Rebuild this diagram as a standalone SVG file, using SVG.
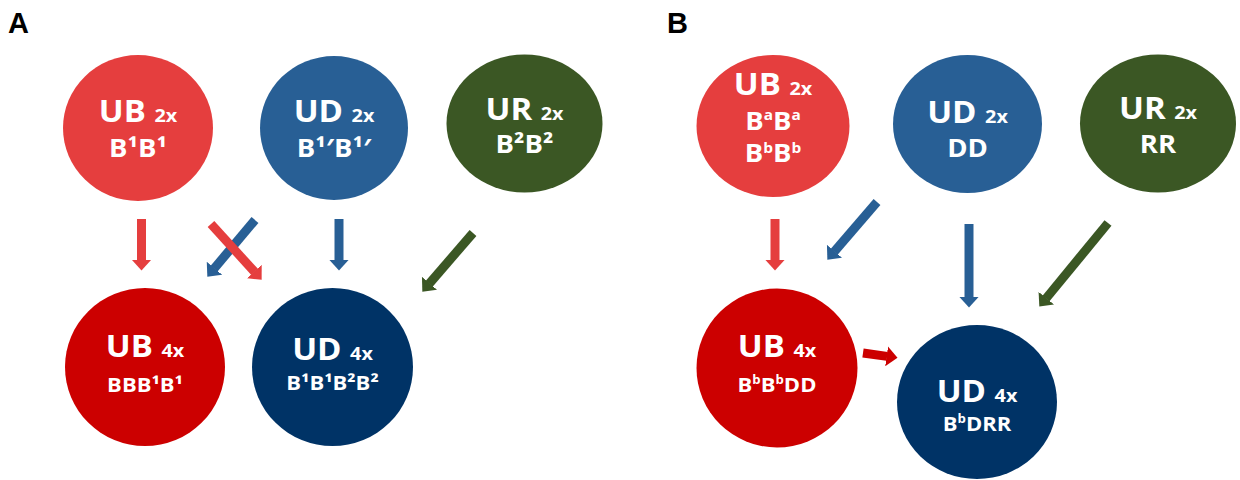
<svg xmlns="http://www.w3.org/2000/svg" width="1240" height="480" viewBox="0 0 1240 480">
  <defs>
    <style>
      .panel { font-family: "Liberation Sans", Arial, sans-serif; font-weight: 700; font-size: 29px; fill: #000; }
      .lbl { font-family: "Open Sans", "Liberation Sans", sans-serif; font-weight: 700; fill: #fff; text-anchor: middle; }
      .big { font-size: 30px; }
      .tag { font-size: 18px; }
      .sub { font-size: 25px; }
      .sub2 { font-size: 20px; }
      .c-red { fill: #E53E3E; }
      .c-blue { fill: #285F95; }
      .c-green { fill: #3B5724; }
      .c-dred { fill: #CC0000; }
      .c-navy { fill: #003366; }
      .arr { stroke-width: 9; stroke-linecap: butt; fill: none; }
    </style>
    <marker id="hd-red" markerUnits="userSpaceOnUse" viewBox="0 0 11 20" markerWidth="11" markerHeight="20" refX="0.5" refY="10" orient="auto">
      <path d="M0,0 L11,10 L0,20 z" fill="#E53E3E"/>
    </marker>
    <marker id="hd-blue" markerUnits="userSpaceOnUse" viewBox="0 0 11 20" markerWidth="11" markerHeight="20" refX="0.5" refY="10" orient="auto">
      <path d="M0,0 L11,10 L0,20 z" fill="#285F95"/>
    </marker>
    <marker id="hd-green" markerUnits="userSpaceOnUse" viewBox="0 0 11 20" markerWidth="11" markerHeight="20" refX="0.5" refY="10" orient="auto">
      <path d="M0,0 L11,10 L0,20 z" fill="#3B5724"/>
    </marker>
    <marker id="hd-dred" markerUnits="userSpaceOnUse" viewBox="0 0 11 20" markerWidth="11" markerHeight="20" refX="0.5" refY="10" orient="auto">
      <path d="M0,0 L11,10 L0,20 z" fill="#CC0000"/>
    </marker>
  </defs>

  <rect width="1240" height="480" fill="#fff"/>

  <!-- panel letters -->
  <text class="panel" x="8" y="33">A</text>
  <text class="panel" x="667" y="33">B</text>

  <!-- connectors -->
  <g id="connectors">
    <!-- panel A -->
    <line class="arr" x1="141.5" y1="219" x2="141.5" y2="260" stroke="#E53E3E" marker-end="url(#hd-red)"/>
    <line class="arr" x1="255" y1="220" x2="214.1" y2="268.6" stroke="#285F95" marker-end="url(#hd-blue)"/>
    <line class="arr" x1="211" y1="224" x2="254.6" y2="271.9" stroke="#E53E3E" marker-end="url(#hd-red)"/>
    <line class="arr" x1="339" y1="219" x2="339" y2="260" stroke="#285F95" marker-end="url(#hd-blue)"/>
    <line class="arr" x1="473" y1="233" x2="429.2" y2="283.7" stroke="#3B5724" marker-end="url(#hd-green)"/>
    <!-- panel B -->
    <line class="arr" x1="775" y1="219" x2="775" y2="260" stroke="#E53E3E" marker-end="url(#hd-red)"/>
    <line class="arr" x1="877" y1="202" x2="834.2" y2="251.7" stroke="#285F95" marker-end="url(#hd-blue)"/>
    <line class="arr" x1="969" y1="224" x2="969" y2="297" stroke="#285F95" marker-end="url(#hd-blue)"/>
    <line class="arr" x1="1108" y1="223" x2="1046" y2="298.5" stroke="#3B5724" marker-end="url(#hd-green)"/>
    <line class="arr" x1="863" y1="353" x2="887.1" y2="356.4" stroke="#CC0000" marker-end="url(#hd-dred)"/>
  </g>

  <!-- panel A nodes -->
  <g id="a-ub2x">
    <ellipse class="c-red" cx="138" cy="128" rx="75" ry="73"/>
    <g transform="translate(138 0) scale(1.1 1)">
      <text class="lbl" x="0" y="122"><tspan class="big">UB </tspan><tspan class="tag">2x</tspan></text>
      <text class="lbl sub" x="0" y="157">B¹B¹</text>
    </g>
  </g>
  <g id="a-ud2x">
    <ellipse class="c-blue" cx="334" cy="128" rx="74" ry="72"/>
    <g transform="translate(334 0) scale(1.1 1)">
      <text class="lbl" x="0" y="122"><tspan class="big">UD </tspan><tspan class="tag">2x</tspan></text>
      <text class="lbl sub" x="0" y="157">B¹′B¹′</text>
    </g>
  </g>
  <g id="a-ur2x">
    <ellipse class="c-green" cx="524.5" cy="123.5" rx="78" ry="69"/>
    <g transform="translate(524.5 0) scale(1.1 1)">
      <text class="lbl" x="0" y="120"><tspan class="big">UR </tspan><tspan class="tag">2x</tspan></text>
      <text class="lbl sub" x="0" y="153">B²B²</text>
    </g>
  </g>
  <g id="a-ub4x">
    <ellipse class="c-dred" cx="145" cy="367" rx="80" ry="79"/>
    <g transform="translate(145 0) scale(1.1 1)">
      <text class="lbl" x="0" y="357"><tspan class="big">UB </tspan><tspan class="tag">4x</tspan></text>
      <text class="lbl sub2" x="0" y="392">BBB¹B¹</text>
    </g>
  </g>
  <g id="a-ud4x">
    <ellipse class="c-navy" cx="332.5" cy="367" rx="80.5" ry="79"/>
    <g transform="translate(332.5 0) scale(1.1 1)">
      <text class="lbl" x="0" y="360"><tspan class="big">UD </tspan><tspan class="tag">4x</tspan></text>
      <text class="lbl sub2" x="0" y="390">B¹B¹B²B²</text>
    </g>
  </g>

  <!-- panel B nodes -->
  <g id="b-ub2x">
    <ellipse class="c-red" cx="773" cy="126" rx="76.5" ry="71"/>
    <g transform="translate(773 0) scale(1.1 1)">
      <text class="lbl" x="0" y="95"><tspan class="big">UB </tspan><tspan class="tag">2x</tspan></text>
      <text class="lbl sub" x="0" y="130">B<tspan font-size="14" dy="-10">a</tspan><tspan dy="10">B</tspan><tspan font-size="14" dy="-10">a</tspan></text>
      <text class="lbl sub" x="0" y="162">B<tspan font-size="14" dy="-9">b</tspan><tspan dy="9">B</tspan><tspan font-size="14" dy="-9">b</tspan></text>
    </g>
  </g>
  <g id="b-ud2x">
    <ellipse class="c-blue" cx="967.5" cy="124" rx="74.5" ry="69"/>
    <g transform="translate(967.5 0) scale(1.1 1)">
      <text class="lbl" x="0" y="123"><tspan class="big">UD </tspan><tspan class="tag">2x</tspan></text>
      <text class="lbl sub" x="0" y="157">DD</text>
    </g>
  </g>
  <g id="b-ur2x">
    <ellipse class="c-green" cx="1158" cy="123.5" rx="78" ry="69"/>
    <g transform="translate(1158 0) scale(1.1 1)">
      <text class="lbl" x="0" y="119"><tspan class="big">UR </tspan><tspan class="tag">2x</tspan></text>
      <text class="lbl sub" x="0" y="153">RR</text>
    </g>
  </g>
  <g id="b-ub4x">
    <ellipse class="c-dred" cx="777" cy="368" rx="80.5" ry="79.5"/>
    <g transform="translate(777 0) scale(1.1 1)">
      <text class="lbl" x="0" y="357"><tspan class="big">UB </tspan><tspan class="tag">4x</tspan></text>
      <text class="lbl sub2" x="0" y="392">B<tspan font-size="12" dy="-8">b</tspan><tspan dy="8">B</tspan><tspan font-size="12" dy="-8">b</tspan><tspan dy="8">DD</tspan></text>
    </g>
  </g>
  <g id="b-ud4x">
    <ellipse class="c-navy" cx="977" cy="402" rx="80" ry="77"/>
    <g transform="translate(977 0) scale(1.1 1)">
      <text class="lbl" x="0" y="402"><tspan class="big">UD </tspan><tspan class="tag">4x</tspan></text>
      <text class="lbl sub2" x="0" y="431">B<tspan font-size="12" dy="-8">b</tspan><tspan dy="8">DRR</tspan></text>
    </g>
  </g>
</svg>
